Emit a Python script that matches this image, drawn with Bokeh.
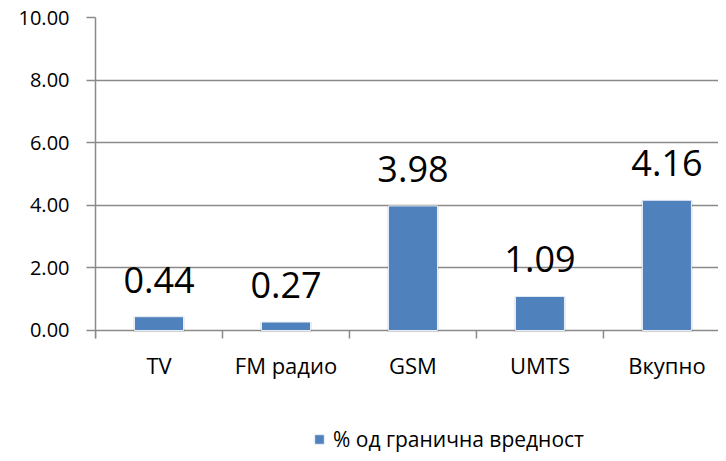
from bokeh.plotting import figure
from bokeh.models import (Range1d, FixedTicker, NumeralTickFormatter, ColumnDataSource,
                          Legend, LegendItem)
from bokeh.embed import file_html
from bokeh.resources import INLINE
from bokeh.core.properties import value

categories = ["TV", "FM радио", "GSM", "UMTS", "Вкупно"]
values = [0.44, 0.27, 3.98, 1.09, 4.16]
value_labels = ["0.44", "0.27", "3.98", "1.09", "4.16"]
y_ticks = [0, 2, 4, 6, 8, 10]
series_name = "% од гранична вредност"

n = len(categories)
xs = [i + 0.5 for i in range(n)]
bounds = [float(i) for i in range(n + 1)]
src = ColumnDataSource(dict(x=xs, top=values, lab=value_labels, cat=categories,
                            zero=[0.0] * n))

FONT = "Open Sans"
GRAY = "#8a8a8a"
PX_PER_UNIT = 31.3
TICK = 8 / PX_PER_UNIT

p = figure(width=718, height=453, output_backend="svg", toolbar_location=None,
           x_range=Range1d(0, 4.906), y_range=Range1d(-3.93, 10),
           min_border_left=95, min_border_right=0, min_border_top=17, min_border_bottom=0)
p.outline_line_color = None
p.background_fill_color = "white"
p.border_fill_color = "white"
p.xaxis.visible = False

# shadow
p.vbar(x="x", top="top", width=0.41, bottom=-0.06, source=src,
       fill_color="#000000", fill_alpha=0.07, line_color=None)
r = p.vbar(x="x", top="top", width=0.386, source=src,
           fill_color="#4F81BD", line_color="#e8eef6", line_width=1)

p.text(x="x", y="top", text="lab", source=src, y_offset=-37,
       text_align="center", text_baseline="alphabetic",
       text_font=value(FONT), text_font_size="36px", text_color="black")

# category separator ticks under the baseline
p.segment(x0=bounds, y0=[0.0] * len(bounds), x1=bounds, y1=[-TICK] * len(bounds),
          line_color=GRAY, line_width=1.5)

# category labels
p.text(x="x", y="zero", text="cat", source=src, y_offset=35,
       text_align="center", text_baseline="middle",
       text_font=value(FONT), text_font_size="22px", text_color="black")

# y axis
p.yaxis.ticker = FixedTicker(ticks=y_ticks)
p.yaxis.bounds = (-TICK, 10)
p.yaxis.formatter = NumeralTickFormatter(format="0.00")
p.yaxis.axis_line_color = GRAY
p.yaxis.axis_line_width = 1.5
p.yaxis.major_tick_line_color = GRAY
p.yaxis.major_tick_line_width = 1.5
p.yaxis.major_tick_out = 9
p.yaxis.major_tick_in = 0
p.yaxis.minor_tick_line_color = None
p.yaxis.major_label_standoff = 17
p.yaxis.major_label_text_font = FONT
p.yaxis.major_label_text_font_size = "20px"
p.yaxis.major_label_text_color = "black"

p.xgrid.grid_line_color = None
p.ygrid.grid_line_color = GRAY
p.ygrid.grid_line_width = 1.5

legend = Legend(items=[LegendItem(label=series_name, renderers=[r])],
                location=(218, 0), orientation="horizontal",
                padding=0, margin=0, spacing=0, glyph_width=12, glyph_height=12,
                label_standoff=8, label_text_font=FONT, label_text_font_size="21px",
                label_text_color="black", border_line_color=None,
                background_fill_alpha=0)
p.add_layout(legend, "center")

open("out.html", "w").write(file_html(p, INLINE))
